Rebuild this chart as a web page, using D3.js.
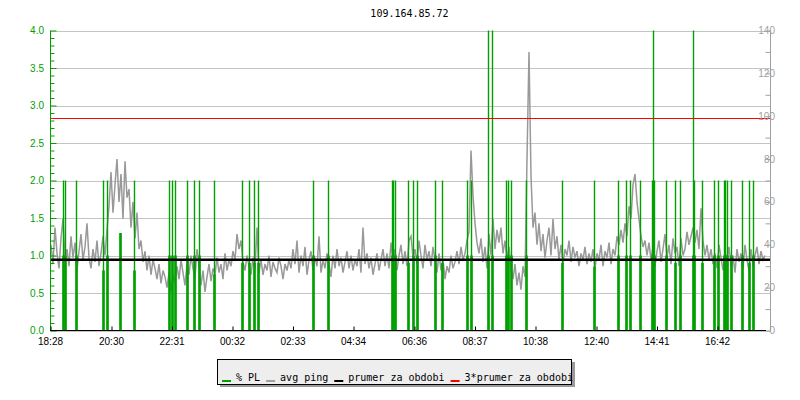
<!DOCTYPE html>
<html>
<head>
<meta charset="utf-8">
<script src="https://cdn.jsdelivr.net/npm/d3@7"></script>
<style>
  body { margin: 0; background: #fff; }
  svg { display: block; font-family: "DejaVu Sans Mono", monospace; font-size: 10px; }
</style>
</head>
<body>
<svg width="800" height="400"></svg>
<script>
var title = "109.164.85.72";

// x axis tick labels (clock time, 24h window starting 18:28)
var tickLabels = ["18:28", "20:30", "22:31", "00:32", "02:33", "04:34",
                  "06:36", "08:37", "10:38", "12:40", "14:41", "16:42"];

// avg ping [ms], one sample every 4 min starting 1 min after 18:28
var pingStepMin = 4, pingStartMin = 1;
var ping = [
  40,31,48,36,29,43,52,33,38,30,44,34,41,28,37,
  45,33,39,50,34,29,38,32,42,30,36,44,35,47,58,
  74,55,68,80,60,73,52,79,62,66,48,60,43,55,38,
  42,32,37,28,35,26,33,29,24,31,22,28,25,20,27,
  18,26,22,30,24,33,27,21,31,26,35,29,24,38,30,
  21,28,18,25,31,23,29,26,34,27,31,24,36,28,33,
  30,37,33,45,38,42,32,28,35,30,26,34,29,48,27,
  33,26,31,28,35,25,32,29,27,34,30,24,31,28,33,
  29,38,31,42,27,35,30,39,26,33,37,28,34,30,44,
  27,33,29,36,31,25,35,29,38,30,34,27,32,37,29,
  35,28,33,30,38,27,48,31,36,29,34,26,31,36,28,
  33,38,30,36,29,41,32,38,28,35,40,31,37,30,42,
  44,34,38,31,42,35,29,40,33,37,30,39,33,27,36,
  28,33,24,30,27,35,29,32,37,31,39,33,36,42,46,
  84,63,50,41,36,43,32,39,29,45,35,52,38,47,41,
  48,36,42,33,39,29,24,31,21,27,19,30,25,80,130,
  72,48,55,40,50,37,45,34,42,48,35,52,38,44,33,
  40,31,38,35,42,32,39,34,37,30,36,33,39,31,36,
  32,38,29,36,33,40,30,37,34,41,31,38,35,44,40,
  47,41,50,44,58,52,68,73,60,52,44,39,42,35,41,
  33,39,30,37,42,32,38,45,34,40,31,43,36,39,30,
  43,35,38,46,40,44,48,41,47,38,57,42,35,40,33,
  38,31,36,29,40,34,28,37,32,39,30,35,27,38,32,
  36,29,40,33,28,38,30,35,39,31,37,33,35
];

// packet loss events: minutes after start, peak %, neighbour %
var plMin = [25, 28, 51, 105, 112, 139, 167, 236, 243, 248, 272, 287, 296, 326,
             382, 396, 407, 414, 524, 554, 682, 685, 688, 714,
             724, 734, 768, 784, 832, 840, 875, 883, 912, 916, 920, 950, 1022,
             1087, 1134, 1150, 1158, 1178, 1202, 1204, 1206, 1230, 1248, 1259,
             1284, 1286, 1302, 1326, 1334, 1347, 1349, 1352, 1360, 1382, 1396, 1404];
var plVal = [2, 2, 2, 2, 2, 1.3, 2, 2, 2, 2, 2, 2, 2, 2,
             2, 2, 2, 2, 2, 2, 2, 2, 2, 2,
             2, 2, 2, 2, 2, 2, 4, 4, 2, 2, 2, 2, 2,
             2, 2, 2, 2, 2, 2, 4, 2, 2, 2, 2,
             4, 2, 2, 2, 2, 2, 2, 2, 2, 2, 2, 2];
var plLow = [1, 1, 1, 0.8, 1, 1.3, 0.8, 1, 1, 1, 1, 1, 1, 0.75,
             0.9, 0.9, 0.9, 0.9, 1, 1, 1, 1, 1, 0.9,
             1, 1, 1, 0.9, 1, 1, 1, 1, 1, 1, 1, 1, 0.9,
             0.85, 1, 1, 1, 1, 1, 1, 1, 1, 0.9, 1,
             1, 1, 0.9, 1, 1, 1, 1, 1, 1, 1, 0.9, 1];

var pingMean = 33.0;

var leftTicks = [0, 0.5, 1, 1.5, 2, 2.5, 3, 3.5, 4];
var rightTicks = [0, 20, 40, 60, 80, 100, 120, 140];

var legendItems = [
  {name: "% PL", color: "#00a000"},
  {name: "avg ping", color: "#a0a0a0"},
  {name: "prumer za obdobi", color: "#000000"},
  {name: "3*prumer za obdobi", color: "#ff0000"}
];

var svg = d3.select("svg");
var green = "#00a000", gray = "#999999", grid = "#c4c4c4";

var start = new Date(2020, 0, 1, 18, 28);
var end = d3.timeMinute.offset(start, 1440);
var x = d3.scaleTime().domain([start, end]).range([50.5, 770.5]);
var yL = d3.scaleLinear().domain([0, 4]).range([330.5, 30.5]);
var yR = d3.scaleLinear().domain([0, 140]).range([330.5, 30.5]);

// tick label -> date, rolling over midnight
var prev = start, tickDates = tickLabels.map(function(t) {
  var p = t.split(":");
  var d = new Date(prev.getFullYear(), prev.getMonth(), prev.getDate(), +p[0], +p[1]);
  if (d < prev) d = d3.timeDay.offset(d, 1);
  prev = d;
  return d;
});

// title
svg.append("text")
  .attr("x", 409.5).attr("y", 17)
  .attr("text-anchor", "middle")
  .attr("fill", "#000")
  .text(title);

// grid
svg.append("g").selectAll("line")
  .data(leftTicks)
  .enter().append("line")
    .attr("x1", 50.5).attr("x2", 770.5)
    .attr("y1", function(d) { return Math.round(yL(d)) + 0.5; })
    .attr("y2", function(d) { return Math.round(yL(d)) + 0.5; })
    .attr("stroke", grid);

// ping line
var line = d3.line()
  .x(function(d, i) { return x(d3.timeMinute.offset(start, pingStartMin + i * pingStepMin)); })
  .y(function(d) { return yR(d); });

svg.append("path")
  .datum(ping)
  .attr("d", line)
  .attr("fill", "none")
  .attr("stroke", gray)
  .attr("stroke-width", 1.5);

// packet loss
var pl = plMin.map(function(m, i) {
  return {t: d3.timeMinute.offset(start, m), v: Math.min(plVal[i], 4), low: plLow[i]};
});
var gPl = svg.append("g");
gPl.selectAll("line")
  .data(pl)
  .enter().append("line")
    .attr("x1", function(d) { return Math.round(x(d.t)) + 0.5; })
    .attr("x2", function(d) { return Math.round(x(d.t)) + 0.5; })
    .attr("y1", yL(0))
    .attr("y2", function(d) { return yL(d.v); })
    .attr("stroke", green)
    .attr("stroke-width", 1.4);
gPl.selectAll("rect")
  .data(pl)
  .enter().append("rect")
    .attr("x", function(d) { return Math.round(x(d.t)) - 0.8; })
    .attr("width", 2.6)
    .attr("y", function(d) { return yL(d.low); })
    .attr("height", function(d) { return yL(0) - yL(d.low); })
    .attr("fill", green);

// mean and 3*mean
svg.append("line")
  .attr("x1", 50.5).attr("x2", 770.5)
  .attr("y1", yR(pingMean)).attr("y2", yR(pingMean))
  .attr("stroke", "#000").attr("stroke-width", 2.5);
svg.append("line")
  .attr("x1", 50.5).attr("x2", 770.5)
  .attr("y1", Math.round(yR(3 * pingMean)) + 0.5).attr("y2", Math.round(yR(3 * pingMean)) + 0.5)
  .attr("stroke", "#ff0000").attr("stroke-width", 1);

// left axis (green), ticks drawn inside the plot
var left = svg.append("g").attr("transform", "translate(50.5,0)");
left.call(d3.axisRight(yL).ticks(40).tickSize(4).tickFormat(""))
  .call(function(g) { g.select(".domain").remove(); });
left.selectAll("line").attr("stroke", green);
left.selectAll(".tick").filter(function(d) { return Math.round(d * 10) % 5 === 0; })
  .select("line").attr("x2", 6);
left.append("line").attr("y1", 30.5).attr("y2", 330.5).attr("stroke", green);
left.selectAll(".lab")
  .data(leftTicks)
  .enter().append("text")
    .attr("x", -6.5)
    .attr("y", function(d) { return yL(d); })
    .attr("dy", "0.35em")
    .attr("text-anchor", "end")
    .attr("fill", green)
    .text(d3.format(".1f"));

// right axis (gray), ticks inside
var right = svg.append("g").attr("transform", "translate(770.5,0)");
right.call(d3.axisLeft(yR).ticks(14).tickSize(5).tickFormat(""))
  .call(function(g) { g.select(".domain").remove(); });
right.selectAll("line").attr("stroke", "#a0a0a0");
right.append("line").attr("y1", 30.5).attr("y2", 330.5).attr("stroke", "#a0a0a0");
right.selectAll(".lab")
  .data(rightTicks)
  .enter().append("text")
    .attr("x", 4.5)
    .attr("y", function(d) { return yR(d); })
    .attr("dy", "0.35em")
    .attr("fill", "#a0a0a0")
    .text(function(d) { return d; });

// x axis
var bottom = svg.append("g").attr("transform", "translate(0,330.5)");
bottom.call(d3.axisTop(x).tickValues(tickDates).tickSize(4).tickFormat(""))
  .call(function(g) { g.select(".domain").remove(); });
bottom.selectAll("line").attr("stroke", "#000");
bottom.append("line").attr("x1", 50).attr("x2", 766).attr("stroke", "#000");
bottom.selectAll(".lab")
  .data(tickDates)
  .enter().append("text")
    .attr("x", function(d) { return x(d); })
    .attr("y", 14.5)
    .attr("text-anchor", "middle")
    .attr("fill", "#000")
    .text(function(d, i) { return tickLabels[i]; });

// legend
var lg = svg.append("g");
lg.append("rect").attr("x", 220).attr("y", 362).attr("width", 355).attr("height", 25).attr("fill", "#9a9a9a");
lg.append("rect").attr("x", 217.5).attr("y", 359.5).attr("width", 354).attr("height", 25)
  .attr("fill", "#eeeeee").attr("stroke", "#000");
var lx = 222;
legendItems.forEach(function(d) {
  lg.append("rect").attr("x", lx).attr("y", 380).attr("width", 9).attr("height", 2).attr("fill", d.color);
  var t = lg.append("text").attr("x", lx + 14).attr("y", 381).attr("fill", "#000").text(d.name);
  lx += 14 + t.node().getComputedTextLength() + 6;
});
</script>
</body>
</html>
